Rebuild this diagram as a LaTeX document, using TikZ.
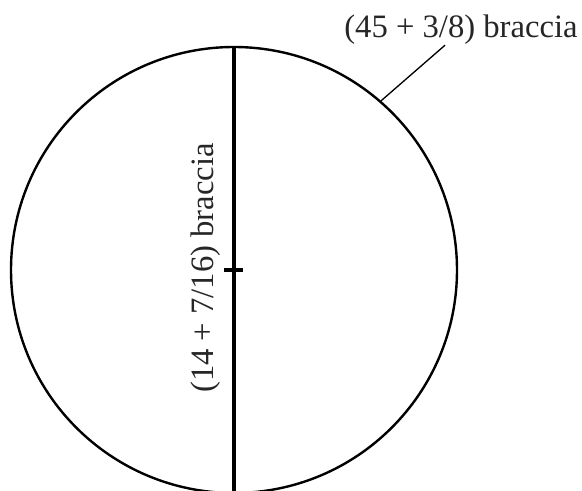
\documentclass[tikz,border=0pt]{standalone}
\usepackage{fontspec}
\setmainfont{Liberation Serif}
\usepackage{tikz}
\usetikzlibrary{positioning}

\begin{document}
\begin{tikzpicture}[
    x=0.75pt, y=-0.75pt,
    font=\fontsize{24.5}{28}\selectfont,
    rim/.style = {draw, circle, minimum size=334.5pt, inner sep=0pt, line width=1.8pt},
    diam/.style = {line width=2.4pt},
    lbl/.style = {inner sep=0pt, text=black!85},
    leader/.style = {line width=1pt}
]
    \useasboundingbox (0,0) rectangle (582,491);

    \node[rim] (disc) at (234,270) {};
    \node[lbl, anchor=base] (circum) at (461,38) {(45 + 3/8) braccia};
    \node[lbl, anchor=base, rotate=90] (diamlbl) at (213,268) {(14 + 7/16) braccia};

    % diameter with centre mark
    \draw[diam] (disc.north) -- (disc.south);
    \draw[diam] ([xshift=-7.5pt]disc.center) -- ([xshift=7pt]disc.center);

    \draw[leader] (disc.49) -- ([xshift=-12pt]circum.south);
\end{tikzpicture}
\end{document}
